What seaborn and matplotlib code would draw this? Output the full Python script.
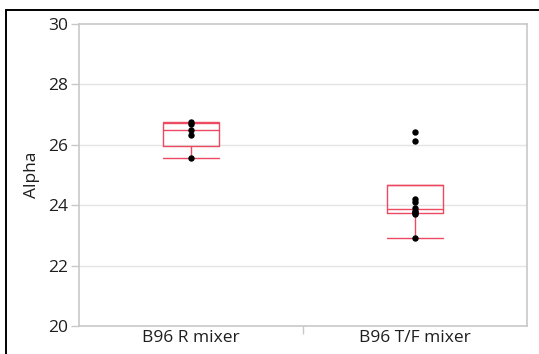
import numpy as np
import pandas as pd
import matplotlib
matplotlib.use("Agg")
import matplotlib.pyplot as plt
import seaborn as sns
from matplotlib.lines import Line2D

# Alpha measurements per mixer
categories = ["B96 R mixer", "B96 T/F mixer"]
r_mixer = [26.77, 26.70, 26.50, 26.33, 25.57]
tf_mixer = [22.92, 23.70, 23.74, 23.77, 23.80, 23.92, 24.12, 24.20, 26.12, 26.43]
y_ticks = [20, 22, 24, 26, 28, 30]

df = pd.DataFrame({
    "group": [categories[0]] * len(r_mixer) + [categories[1]] * len(tf_mixer),
    "Alpha": r_mixer + tf_mixer,
})

sns.set_style("white")
plt.rcParams["font.family"] = ["Open Sans", "DejaVu Sans"]

fig = plt.figure(figsize=(5.39, 3.54), dpi=100)
W, H = 539, 354
ax = fig.add_axes([79 / W, 1 - 326 / H, (527 - 79) / W, (326 - 24) / H])

# Box statistics with (n+1)p quantiles, whiskers to the furthest point within 1.5 IQR
stats = []
for vals in (r_mixer, tf_mixer):
    v = np.asarray(vals)
    q1, med, q3 = np.percentile(v, [25, 50, 75], method="weibull")
    iqr = q3 - q1
    lo = v[v >= q1 - 1.5 * iqr].min()
    hi = v[v <= q3 + 1.5 * iqr].max()
    stats.append(dict(med=med, q1=q1, q3=q3,
                      whislo=min(lo, q1), whishi=max(hi, q3), fliers=[]))

box_color = "#ec4a60"
ax.bxp(stats, positions=[0, 1], widths=0.25, capwidths=0.25, showfliers=False,
       boxprops=dict(color=box_color, linewidth=1.0),
       medianprops=dict(color=box_color, linewidth=1.0),
       whiskerprops=dict(color=box_color, linewidth=1.0),
       capprops=dict(color=box_color, linewidth=1.0),
       manage_ticks=False, zorder=2)

sns.stripplot(data=df, x="group", y="Alpha", order=categories, jitter=False,
              color="black", size=4.6, ax=ax, zorder=3)

ax.set_xlim(-0.5, 1.5)
ax.set_ylim(20, 30)
ax.set_yticks(y_ticks)
ax.set_yticklabels([str(t) for t in y_ticks])
ax.set_xticks([0, 1])
ax.set_xticklabels(categories)
ax.set_xticks([0.5], minor=True)
ax.set_xlabel("")
ax.set_ylabel("Alpha", fontsize=12.5, color="#1e1e1e", labelpad=6)

for t in (22, 24, 26, 28):
    ax.axhline(t, color="#e4e4e4", linewidth=1.0, zorder=0)

for s in ax.spines.values():
    s.set_color("#c8c8c8")
    s.set_linewidth(1.2)

ax.tick_params(axis="y", which="major", length=6, width=1, color="#c8c8c8",
               labelsize=12.5, labelcolor="#1e1e1e", pad=2, left=True)
ax.tick_params(axis="x", which="major", length=0, labelsize=12.5,
               labelcolor="#1e1e1e", pad=3)
ax.tick_params(axis="x", which="minor", length=6, width=1, color="#c8c8c8",
               bottom=True)

# Window frame along the top and left edges
fig.add_artist(Line2D([6 / W, 6 / W], [0, 1 - 9.5 / H], transform=fig.transFigure,
                      color="black", linewidth=1.4))
fig.add_artist(Line2D([6 / W, 1], [1 - 9.5 / H, 1 - 9.5 / H], transform=fig.transFigure,
                      color="black", linewidth=1.4))

fig.savefig("out.png", dpi=100)
